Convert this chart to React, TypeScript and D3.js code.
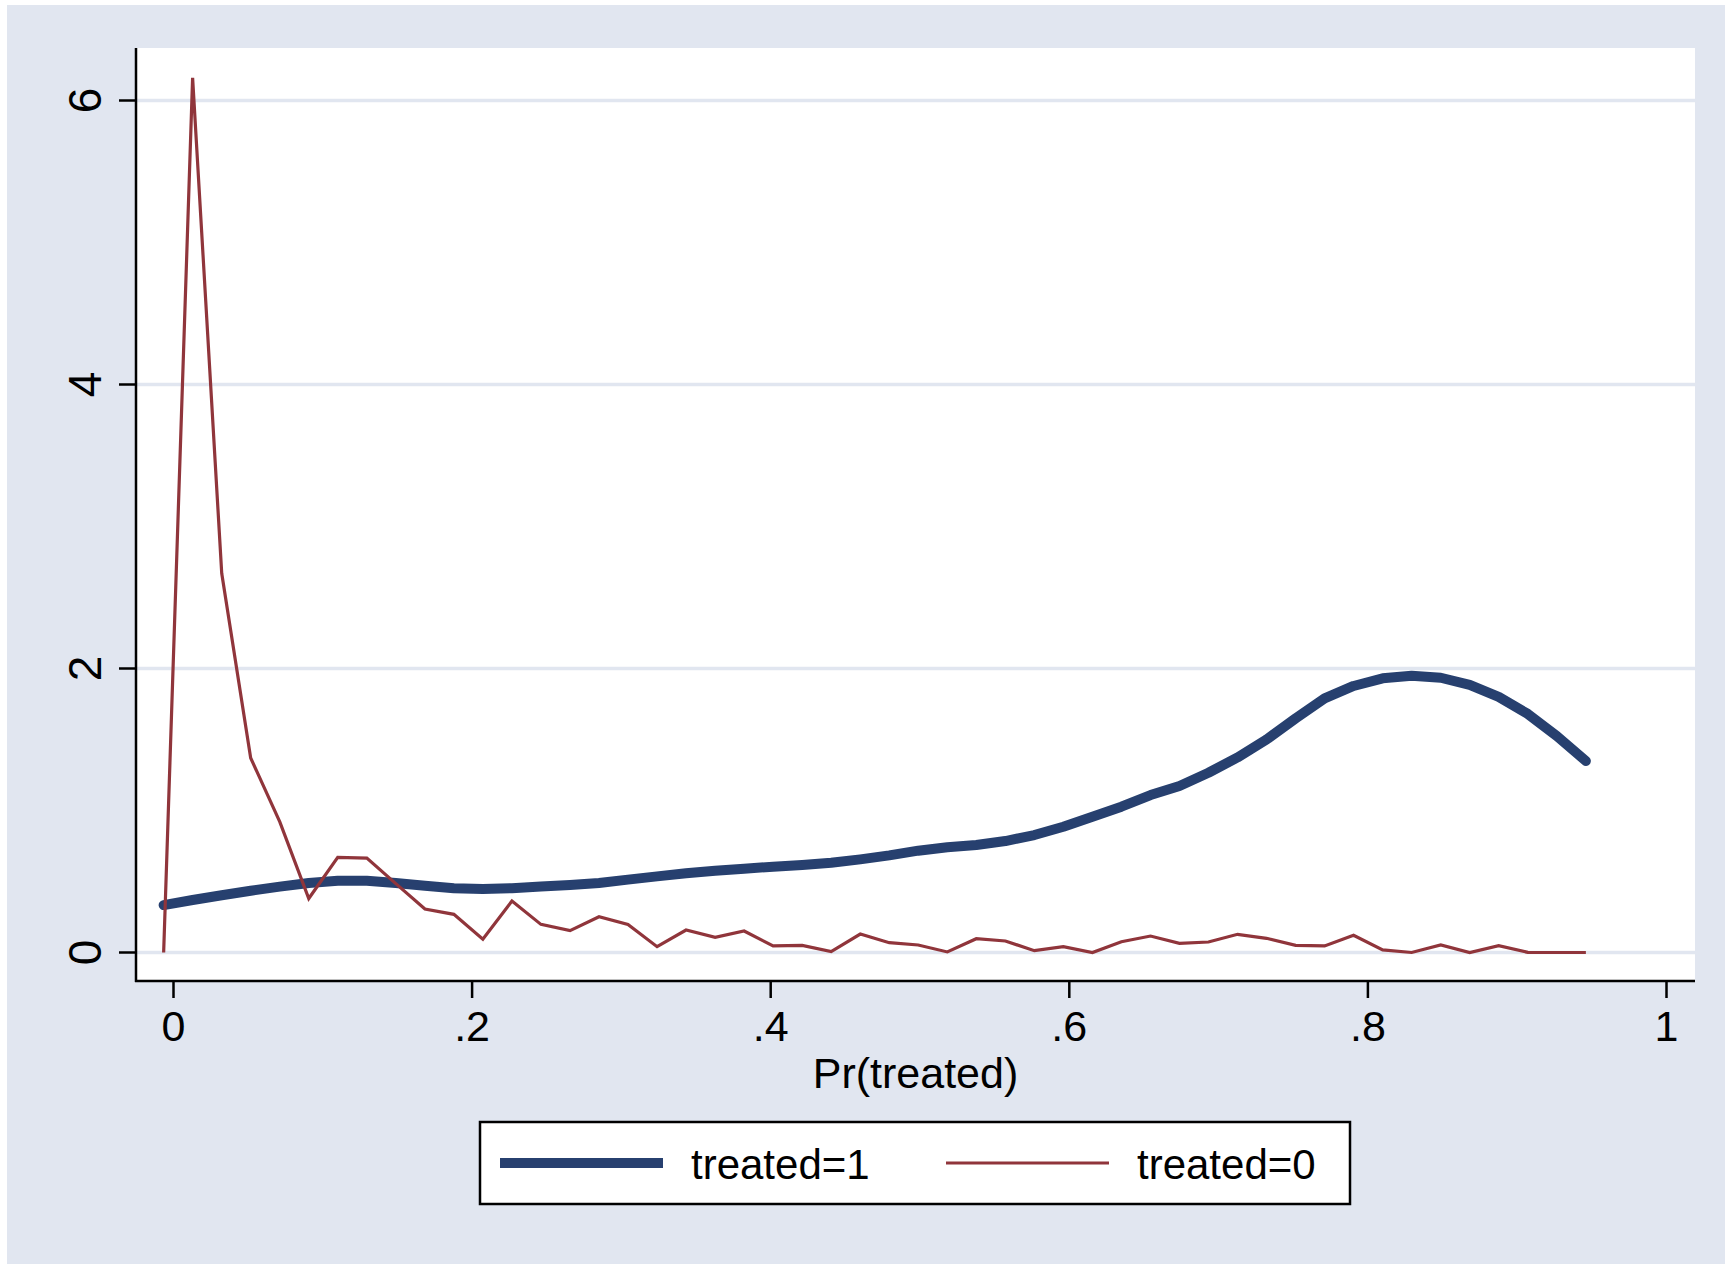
import React from "react";
import * as d3 from "d3";

const xValues = [
  -0.0066, 0.0128, 0.0323, 0.0517, 0.0712, 0.0906, 0.11, 0.1295, 0.1489, 0.1684,
  0.1878, 0.2072, 0.2267, 0.2461, 0.2656, 0.285, 0.3044, 0.3239, 0.3433, 0.3628,
  0.3822, 0.4016, 0.4211, 0.4405, 0.46, 0.4794, 0.4988, 0.5183, 0.5377, 0.5572,
  0.5766, 0.596, 0.6155, 0.6349, 0.6544, 0.6738, 0.6932, 0.7127, 0.7321, 0.7516,
  0.771, 0.7904, 0.8099, 0.8293, 0.8488, 0.8682, 0.8876, 0.9071, 0.9265, 0.946,
];

const treated1 = [
  0.334, 0.37, 0.403, 0.435, 0.464, 0.49, 0.506, 0.506, 0.49, 0.47,
  0.452, 0.447, 0.453, 0.464, 0.475, 0.49, 0.513, 0.536, 0.558, 0.576,
  0.59, 0.604, 0.616, 0.632, 0.656, 0.684, 0.717, 0.741, 0.757, 0.785,
  0.827, 0.886, 0.956, 1.027, 1.109, 1.173, 1.266, 1.374, 1.5, 1.649,
  1.79, 1.877, 1.931, 1.949, 1.935, 1.884, 1.8, 1.68, 1.525, 1.349,
];

const treated0 = [
  0, 6.16, 2.67, 1.37, 0.92, 0.38, 0.67, 0.665, 0.485, 0.306,
  0.269, 0.093, 0.363, 0.198, 0.154, 0.252, 0.198, 0.041, 0.158, 0.107,
  0.151, 0.046, 0.05, 0.006, 0.13, 0.069, 0.053, 0.004, 0.097, 0.081,
  0.013, 0.041, 0, 0.076, 0.116, 0.065, 0.074, 0.128, 0.1, 0.05,
  0.046, 0.121, 0.018, 0, 0.053, 0, 0.048, 0.001, 0, 0,
];

const xTicks = [0, 0.2, 0.4, 0.6, 0.8, 1];
const xTickLabels = ["0", ".2", ".4", ".6", ".8", "1"];
const yTicks = [0, 2, 4, 6];
const yTickLabels = ["0", "2", "4", "6"];
const seriesNames = ["treated=1", "treated=0"];
const xTitle = "Pr(treated)";

const W = 1725;
const H = 1264;
const BG = "#E1E6F0";
const NAVY = "#27406F";
const MAROON = "#90353B";
const FONT = "'Liberation Sans', Arial, Helvetica, sans-serif";

export default function App() {
  const plotLeft = 136;
  const plotRight = 1695;
  const plotTop = 48;
  const plotBottom = 981;

  const x = d3.scaleLinear().domain([0, 1]).range([173.5, 1666.5]);
  const y = d3.scaleLinear().domain([0, 6]).range([952.5, 100.5]);

  const line = d3
    .line<number>()
    .x((_, i) => x(xValues[i]))
    .y((d) => y(d));

  return (
    <svg
      width={W}
      height={H}
      style={{ position: "absolute", left: 0, top: 0, display: "block" }}
      fontFamily={FONT}
    >
      <rect x={0} y={0} width={W} height={H} fill="#ffffff" />
      <rect x={7} y={5} width={W - 7} height={H - 5} fill={BG} />
      <rect
        x={plotLeft}
        y={plotTop}
        width={plotRight - plotLeft}
        height={plotBottom - plotTop}
        fill="#ffffff"
      />
      {yTicks.map((t) => (
        <line
          key={"g" + t}
          x1={plotLeft}
          x2={plotRight}
          y1={y(t)}
          y2={y(t)}
          stroke={BG}
          strokeWidth={3.5}
        />
      ))}
      <path
        d={line(treated1) || ""}
        fill="none"
        stroke={NAVY}
        strokeWidth={10}
        strokeLinejoin="round"
        strokeLinecap="round"
      />
      <path
        d={line(treated0) || ""}
        fill="none"
        stroke={MAROON}
        strokeWidth={3.2}
        strokeLinejoin="miter"
        strokeMiterlimit={20}
      />
      {/* axes */}
      <line x1={plotLeft} x2={plotLeft} y1={plotTop} y2={plotBottom + 1} stroke="#000" strokeWidth={2.5} />
      <line x1={plotLeft - 1} x2={plotRight} y1={plotBottom} y2={plotBottom} stroke="#000" strokeWidth={2.5} />
      {yTicks.map((t, i) => (
        <g key={"yt" + t}>
          <line x1={119} x2={plotLeft} y1={y(t)} y2={y(t)} stroke="#000" strokeWidth={2.5} />
          <text
            transform={`translate(101,${y(t)}) rotate(-90)`}
            textAnchor="middle"
            fontSize={46}
            fill="#000"
          >
            {yTickLabels[i]}
          </text>
        </g>
      ))}
      {xTicks.map((t, i) => (
        <g key={"xt" + t}>
          <line x1={x(t)} x2={x(t)} y1={plotBottom} y2={998} stroke="#000" strokeWidth={2.5} />
          <text x={x(t)} y={1041} textAnchor="middle" fontSize={43} fill="#000">
            {xTickLabels[i]}
          </text>
        </g>
      ))}
      <text x={(plotLeft + plotRight) / 2} y={1088} textAnchor="middle" fontSize={43} fill="#000">
        {xTitle}
      </text>
      {/* legend */}
      <rect x={480} y={1122} width={870} height={82} fill="#ffffff" stroke="#000" strokeWidth={2.5} />
      <line x1={500} x2={663} y1={1163} y2={1163} stroke={NAVY} strokeWidth={10} />
      <text x={691} y={1179} fontSize={42} fill="#000">
        {seriesNames[0]}
      </text>
      <line x1={946} x2={1109} y1={1163} y2={1163} stroke={MAROON} strokeWidth={3.2} />
      <text x={1137} y={1179} fontSize={42} fill="#000">
        {seriesNames[1]}
      </text>
    </svg>
  );
}
